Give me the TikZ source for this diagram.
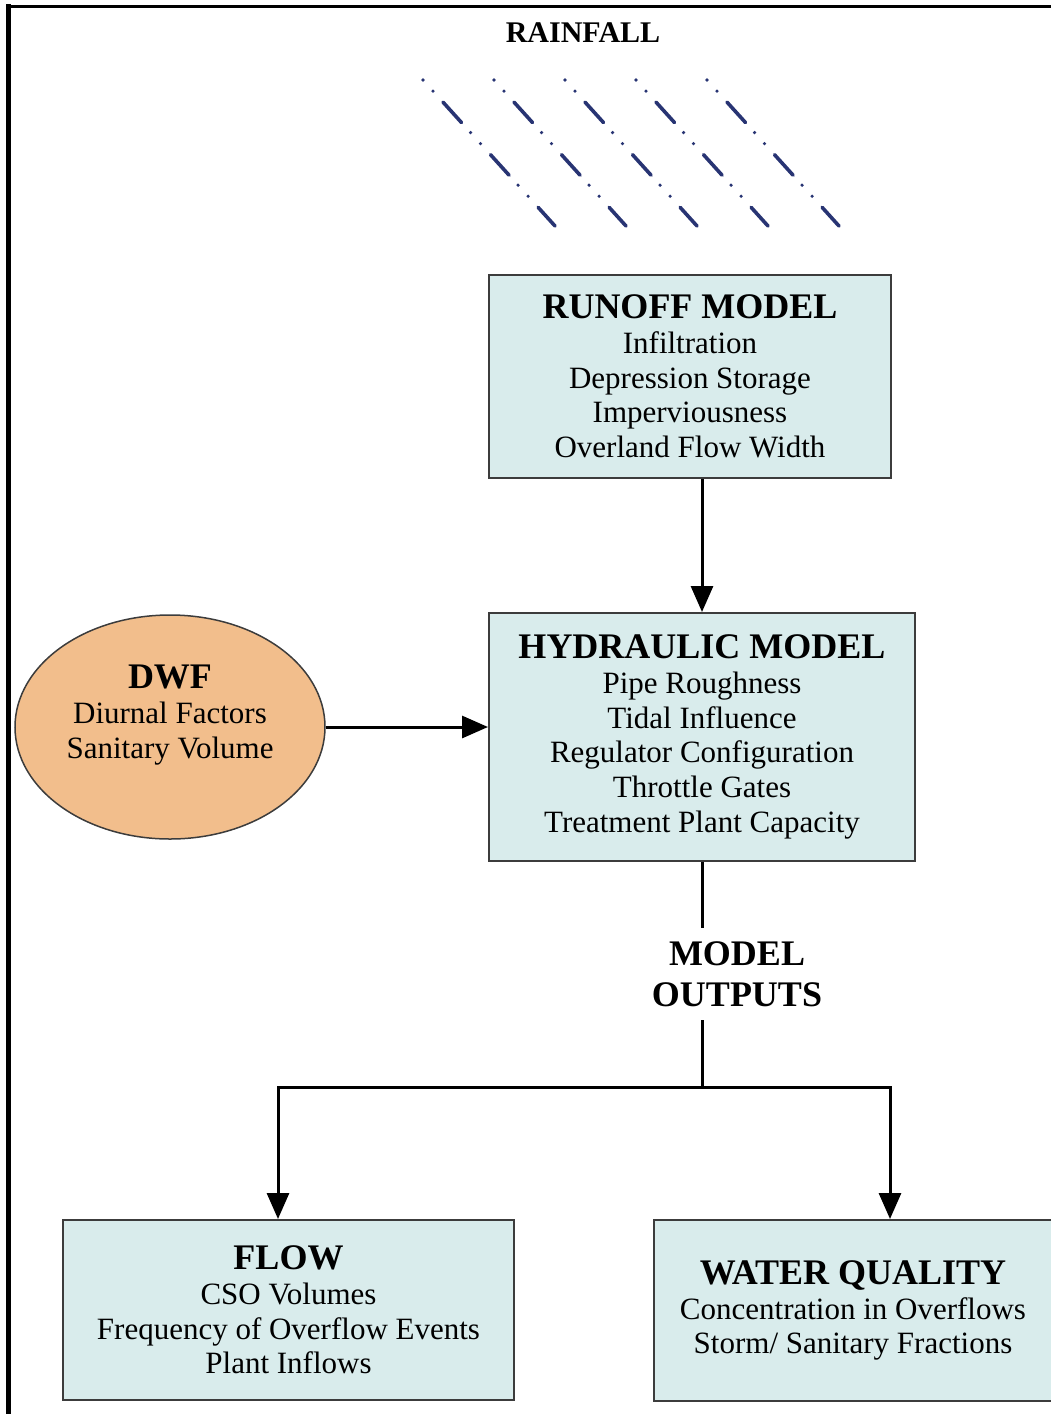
\documentclass[tikz,border=0pt]{standalone}
\usepackage{fontspec}
\setmainfont{Liberation Serif}
\usetikzlibrary{shapes.geometric,arrows.meta}

\definecolor{boxfill}{RGB}{217,236,236}
\definecolor{dwffill}{RGB}{242,190,140}
\definecolor{raincol}{RGB}{40,52,115}
\definecolor{edgegray}{RGB}{60,60,60}

\newcommand{\boxtitle}[1]{{\fontsize{36}{34.7}\selectfont\bfseries #1}}

\begin{document}
\begin{tikzpicture}[
        x=1pt, y=-1pt,
        model/.style={rectangle, draw=edgegray, line width=2pt, fill=boxfill, align=center, inner sep=0pt, font=\fontsize{31}{34.7}\selectfont},
        dwfshape/.style={ellipse, draw=edgegray, line width=1.5pt, fill=dwffill, minimum width=310pt, minimum height=224pt},
        heading/.style={font=\fontsize{36}{41}\selectfont\bfseries, align=center, inner sep=0pt},
        flowline/.style={line width=3pt},
        flowarrow/.style={line width=3pt, -{Triangle[length=26pt,width=22pt]}},
        drop/.style={raincol, line width=3.6pt, line cap=round, dash pattern=on 0pt off 14.9pt on 0pt off 14.9pt on 27.6pt off 13.5pt}
    ]
    \useasboundingbox (0,0) rectangle (1050,1414);

    % --- Frame ---
    \draw[line width=3pt] (6,6) -- (1055,6);
    \draw[line width=5pt] (8,4) -- (8,1420);

    % --- Rainfall ---
    \node[font=\fontsize{30}{30}\selectfont\bfseries, inner sep=0pt] (rainfall) at (583,33) {RAINFALL};
    \foreach \i in {0,...,4}
        \draw[drop] (423+71*\i,80) -- ++(132,146);

    % --- Models ---
    \node[model, minimum width=402pt, minimum height=203pt] (runoff) at (690,376.5)
        {\boxtitle{RUNOFF MODEL}\\Infiltration\\Depression Storage\\Imperviousness\\Overland Flow Width};
    \node[model, minimum width=426pt, minimum height=248pt] (hydraulic) at (702,737)
        {\boxtitle{HYDRAULIC MODEL}\\Pipe Roughness\\Tidal Influence\\Regulator Configuration\\Throttle Gates\\Treatment Plant Capacity};

    % DWF input (ellipse, text sits a bit above centre)
    \node[dwfshape] (dwf) at (170,727) {};
    \node[align=center, inner sep=0pt, font=\fontsize{31}{34.7}\selectfont] (dwftext) at (170,715)
        {\boxtitle{DWF}\\Diurnal Factors\\Sanitary Volume};

    % --- Outputs ---
    \node[heading, minimum height=92pt] (outputs) at (737,974) {MODEL\\OUTPUTS};
    \node[model, minimum width=451pt, minimum height=180pt] (flow) at (288.5,1310)
        {\boxtitle{FLOW}\\CSO Volumes\\Frequency of Overflow Events\\Plant Inflows};
    \node[model, minimum width=398pt, minimum height=181pt] (quality) at (853,1310.5)
        {\boxtitle{WATER QUALITY}\\Concentration in Overflows\\Storm/ Sanitary Fractions};

    % --- Connectors ---
    \draw[flowarrow] (hydraulic.north |- runoff.south) -- (hydraulic.north);
    \draw[flowarrow] (dwf.east) -- (dwf.east -| hydraulic.west);
    \draw[flowline] (hydraulic.south) -- (hydraulic.south |- outputs.north);

    \coordinate (split) at (702,1087);
    \coordinate (leftturn) at (278,1087);
    \coordinate (rightturn) at (890,1087);
    \draw[flowline] (hydraulic.south |- outputs.south) -- (split);
    \draw[flowarrow] (split) -- (leftturn) -- (leftturn |- flow.north);
    \draw[flowarrow] (split) -- (rightturn) -- (rightturn |- quality.north);

    \end{tikzpicture}
\end{document}
